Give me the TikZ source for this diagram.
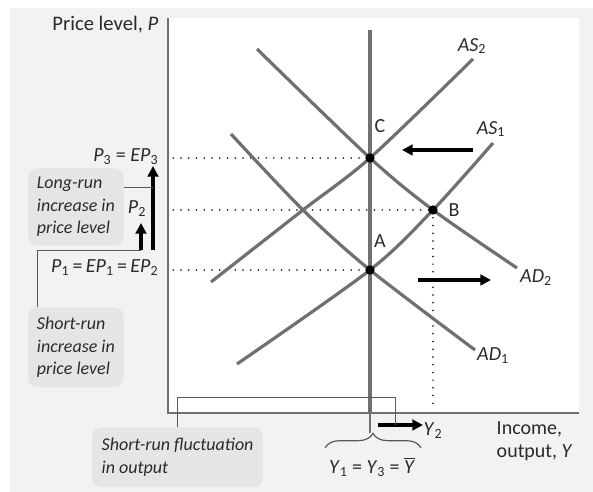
\documentclass[tikz,border=0pt]{standalone}
\usepackage{fontspec}
\setmainfont{Carlito}
\usetikzlibrary{arrows.meta,decorations.pathreplacing}

\definecolor{panelgray}{HTML}{F2F2F2}
\definecolor{boxgray}{HTML}{E5E5E5}
\definecolor{curvegray}{HTML}{707070}
\definecolor{inkgray}{HTML}{2B2B2B}

\newcommand{\lo}[1]{\textsubscript{#1}}

\tikzset{
  curve/.style={curvegray,line width=2.4pt},
  guide/.style={line width=1.3pt,dash pattern=on 0pt off 5.8pt,line cap=round},
  shiftarrow/.style={line width=2.6pt,-{Triangle[length=8pt,width=8pt]}},
  note/.style={fill=boxgray,rounded corners=7pt,align=left,inner xsep=6.5pt,
    font=\fontsize{13.5}{17}\selectfont\itshape,anchor=north west},
  callout/.style={gray!70!black,line width=0.7pt},
  eqdot/.style={circle,fill=black,inner sep=0pt,minimum size=7pt},
}

\begin{document}
\begin{tikzpicture}[x=0.75pt,y=0.75pt,font=\fontsize{15}{17}\selectfont,text=inkgray]
    \useasboundingbox (0,0) rectangle (593,492);

    % panel and plot area
    \fill[panelgray] (10,0) rectangle (593,484);
    \fill[white] (168,79) rectangle (579,474);

    % axes
    \coordinate (O) at (168,79);
    \draw[curvegray,line width=0.9pt] (168,474) -- (O) -- (579,79);

    % equilibrium points
    \coordinate (A) at (370,222);
    \coordinate (B) at (433,282);
    \coordinate (C) at (370,334);
    \coordinate (X) at (303,282);

    % dotted guides
    \draw[guide] ([xshift=4pt]O |- C) -- (C);
    \draw[guide] ([xshift=4pt]O |- B) -- (B);
    \draw[guide] ([xshift=4pt]O |- A) -- (A);
    \draw[guide] (B) -- (433,87);

    % long-run supply
    \coordinate (lrtop) at (370,462);
    \coordinate (lrfoot) at (370,59);
    \draw[curvegray,line width=2.8pt] (lrtop) -- (O -| lrtop);
    \draw[curvegray,line width=0.9pt] (O -| lrtop) -- (lrfoot);

    % AS and AD curves
    \draw[curve] plot[smooth] coordinates {(237,128) (A) (B) (493,349)};
    \draw[curve] plot[smooth] coordinates {(211,210) (X) (C) (473,433)};
    \draw[curve] plot[smooth] coordinates {(231,358) (X) (A) (475,142)};
    \draw[curve] plot[smooth] coordinates {(257,443) (C) (B) (517,224)};

    \node[eqdot] (dotA) at (A) {};
    \node[eqdot] (dotB) at (B) {};
    \node[eqdot] (dotC) at (C) {};

    % point and curve labels
    \node (labC) at (380,366) {C};
    \node (labB) at (454,282) {B};
    \node (labA) at (380,251) {A};
    \node (labAS2) at (472,446) {\textit{AS}\lo{2}};
    \node (labAS1) at (491,363) {\textit{AS}\lo{1}};
    \node (labAD2) at (536,214) {\textit{AD}\lo{2}};
    \node (labAD1) at (493,136) {\textit{AD}\lo{1}};

    % shift arrows
    \coordinate (asfrom) at (473,342);
    \coordinate (asto) at (402,342);
    \coordinate (adfrom) at (418,212);
    \coordinate (adto) at (491,212);
    \draw[shiftarrow] (asfrom) -- (asto);
    \draw[shiftarrow] (adfrom) -- (adto);

    % axis labels
    \node[anchor=east,font=\fontsize{15.5}{17}\selectfont] (plabel) at (163,467) {Price level, \textit{P}};
    \node[anchor=west,align=left] (ylabel) at (492,51) {Income,\\output, \textit{Y}};

    % price levels
    \node[anchor=east] (p3) at (163,335) {\textit{P}\lo{3} = \textit{EP}\lo{3}};
    \node (p2) at (137,283) {\textit{P}\lo{2}};
    \node[anchor=east] (p1) at (163,224) {\textit{P}\lo{1}\,=\,\textit{EP}\lo{1}\,=\,\textit{EP}\lo{2}};

    % price level arrows
    \coordinate (lrlow) at (153,242);
    \coordinate (lrhigh) at (153,326);
    \coordinate (srlow) at (141,242);
    \coordinate (srhigh) at (141,269);
    \draw[shiftarrow,line width=2.4pt] (lrlow) -- (lrhigh);
    \draw[shiftarrow,line width=2.4pt] (srlow) -- (srhigh);

    % output on the axis
    \coordinate (y2from) at (378,67);
    \coordinate (y2to) at (423,67);
    \draw[shiftarrow] (y2from) -- (y2to);
    \node (y2) at (433,61) {\textit{Y}\lo{2}};
    \draw[callout,line width=0.9pt,decorate,decoration={brace,amplitude=11pt}]
        (325,44) -- (421,44);
    \node (ybar) at (372,25) {\textit{Y}\lo{1} = \textit{Y}\lo{3} = $\overline{\mbox{\textit{Y}}}$};

    % boxes
    \node[note,minimum width=71pt,minimum height=58pt] (lrbox) at (28,324)
        {Long-run\\increase in\\price level};
    \node[note,minimum width=71pt,minimum height=60pt] (srbox) at (28,185)
        {Short-run\\increase in\\price level};
    \node[note,minimum width=128pt,minimum height=45pt] (fbox) at (92,65)
        {Short-run fluctuation\\in output};

    % callouts
    \coordinate (lrlink) at (153,305);
    \draw[callout] (lrbox.east |- lrlink) -- (lrlink);
    \draw[callout] ([xshift=6.75pt]srbox.north west) |- (srlow);
    \coordinate (fleft) at (177,95);
    \coordinate (fright) at (395,95);
    \draw[callout] (fbox.north -| fleft) -- (fleft) -- (fright) -- (fright |- y2from);
\end{tikzpicture}
\end{document}
